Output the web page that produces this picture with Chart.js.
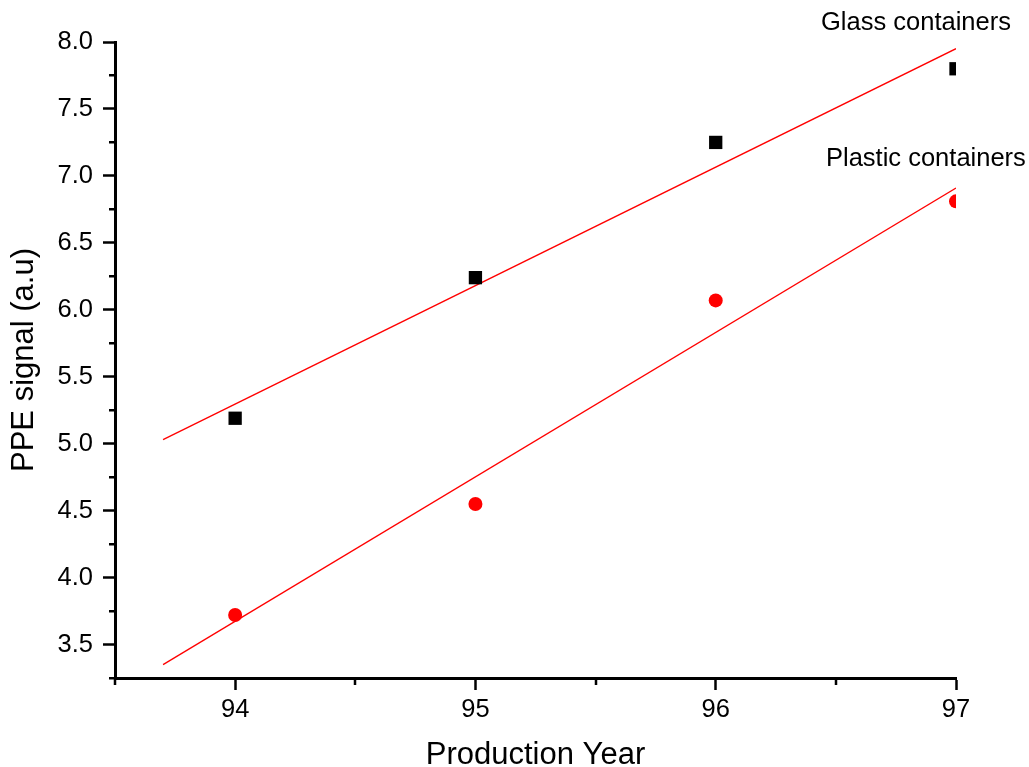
<!DOCTYPE html>
<html>
<head>
<meta charset="utf-8">
<script src="https://cdn.jsdelivr.net/npm/chart.js@4/dist/chart.umd.min.js"></script>
<style>
html,body{margin:0;padding:0;background:#fff;}
#wrap{width:1029px;height:767px;}
</style>
</head>
<body>
<div id="wrap"><canvas id="c" width="1029" height="767"></canvas></div>
<script>
const years = [94, 95, 96, 97];
const glassValues = [5.19, 6.24, 7.25, 7.80];
const plasticValues = [3.72, 4.55, 6.07, 6.81];
const fitX = [93.7, 97];
const glassFit = [5.03, 7.95];
const plasticFit = [3.35, 6.91];
const xTickValues = [94, 95, 96, 97];
const xMinorTicks = [93.5, 94.5, 95.5, 96.5];
const yMinorTicks = [3.25, 3.75, 4.25, 4.75, 5.25, 5.75, 6.25, 6.75, 7.25, 7.75];
const seriesLabels = ['Glass containers', 'Plastic containers'];

const FONT = "'Liberation Sans', Arial, sans-serif";

const toPts = (xs, ys) => xs.map((x, i) => ({x: x, y: ys[i]}));

const minorTicks = {
  id: 'minorTicks',
  afterDraw(chart) {
    const ctx = chart.ctx;
    const xs = chart.scales.x, ys = chart.scales.y;
    const ca = chart.chartArea;
    ctx.save();
    ctx.strokeStyle = '#000';
    ctx.lineWidth = 2.5;
    ctx.beginPath();
    yMinorTicks.forEach(v => {
      const py = Math.round(ys.getPixelForValue(v)) + 0.25;
      ctx.moveTo(ca.left - 6, py);
      ctx.lineTo(ca.left, py);
    });
    xMinorTicks.forEach(v => {
      const px = Math.round(xs.getPixelForValue(v));
      ctx.moveTo(px, ca.bottom);
      ctx.lineTo(px, ca.bottom + 7);
    });
    ctx.stroke();
    ctx.fillStyle = '#000';
    ctx.font = '25.5px ' + FONT;
    ctx.textAlign = 'left';
    ctx.textBaseline = 'alphabetic';
    ctx.fillText(seriesLabels[0], 821, 30);
    ctx.fillText(seriesLabels[1], 826, 166);
    ctx.restore();
  }
};

new Chart(document.getElementById('c'), {
  type: 'scatter',
  data: {
    datasets: [
      {
        label: seriesLabels[0] + ' fit',
        type: 'line',
        data: toPts(fitX, glassFit),
        borderColor: '#ff0000',
        borderWidth: 1.3,
        pointRadius: 0,
        fill: false,
        clip: 0,
        order: 2
      },
      {
        label: seriesLabels[1] + ' fit',
        type: 'line',
        data: toPts(fitX, plasticFit),
        borderColor: '#ff0000',
        borderWidth: 1.3,
        pointRadius: 0,
        fill: false,
        clip: 0,
        order: 2
      },
      {
        label: seriesLabels[0],
        data: toPts(years, glassValues),
        pointStyle: 'rect',
        pointRadius: 9.4,
        pointHoverRadius: 9.4,
        backgroundColor: '#000',
        borderColor: '#000',
        borderWidth: 0,
        clip: 0,
        order: 1
      },
      {
        label: seriesLabels[1],
        data: toPts(years, plasticValues),
        pointStyle: 'circle',
        pointRadius: 7,
        pointHoverRadius: 7,
        backgroundColor: '#ff0000',
        borderColor: '#ff0000',
        borderWidth: 0,
        clip: 0,
        order: 1
      }
    ]
  },
  options: {
    responsive: false,
    animation: false,
    events: [],
    layout: {padding: {left: 0, top: 42, right: 73, bottom: 0}},
    plugins: {legend: {display: false}, tooltip: {enabled: false}},
    scales: {
      x: {
        type: 'linear',
        min: 93.5,
        max: 97,
        afterBuildTicks(scale) { scale.ticks = xTickValues.map(v => ({value: v})); },
        afterFit(scale) { scale.height = 89; },
        ticks: {
          includeBounds: false,
          color: '#000',
          font: {family: FONT, size: 25.5},
          padding: 5,
          callback: v => String(v)
        },
        grid: {drawOnChartArea: false, drawTicks: true, tickLength: 12, tickWidth: 2.5, tickColor: '#000'},
        border: {display: true, color: '#000', width: 3},
        title: {
          display: true,
          text: 'Production Year',
          color: '#000',
          font: {family: FONT, size: 31, lineHeight: 1},
          padding: {top: 0, bottom: -4}
        }
      },
      y: {
        type: 'linear',
        min: 3.25,
        max: 8.0,
        afterFit(scale) { scale.width = 115; },
        ticks: {
          includeBounds: false,
          stepSize: 0.5,
          color: '#000',
          font: {family: FONT, size: 25.5},
          padding: 10,
          callback: v => Number(v).toFixed(1)
        },
        grid: {drawOnChartArea: false, drawTicks: true, tickLength: 12, tickWidth: 2.5, tickColor: '#000'},
        border: {display: true, color: '#000', width: 3},
        title: {
          display: true,
          text: 'PPE signal (a.u)',
          color: '#000',
          font: {family: FONT, size: 31, lineHeight: 1},
          padding: {top: 9, bottom: 0}
        }
      }
    }
  },
  plugins: [minorTicks]
});
</script>
</body>
</html>
